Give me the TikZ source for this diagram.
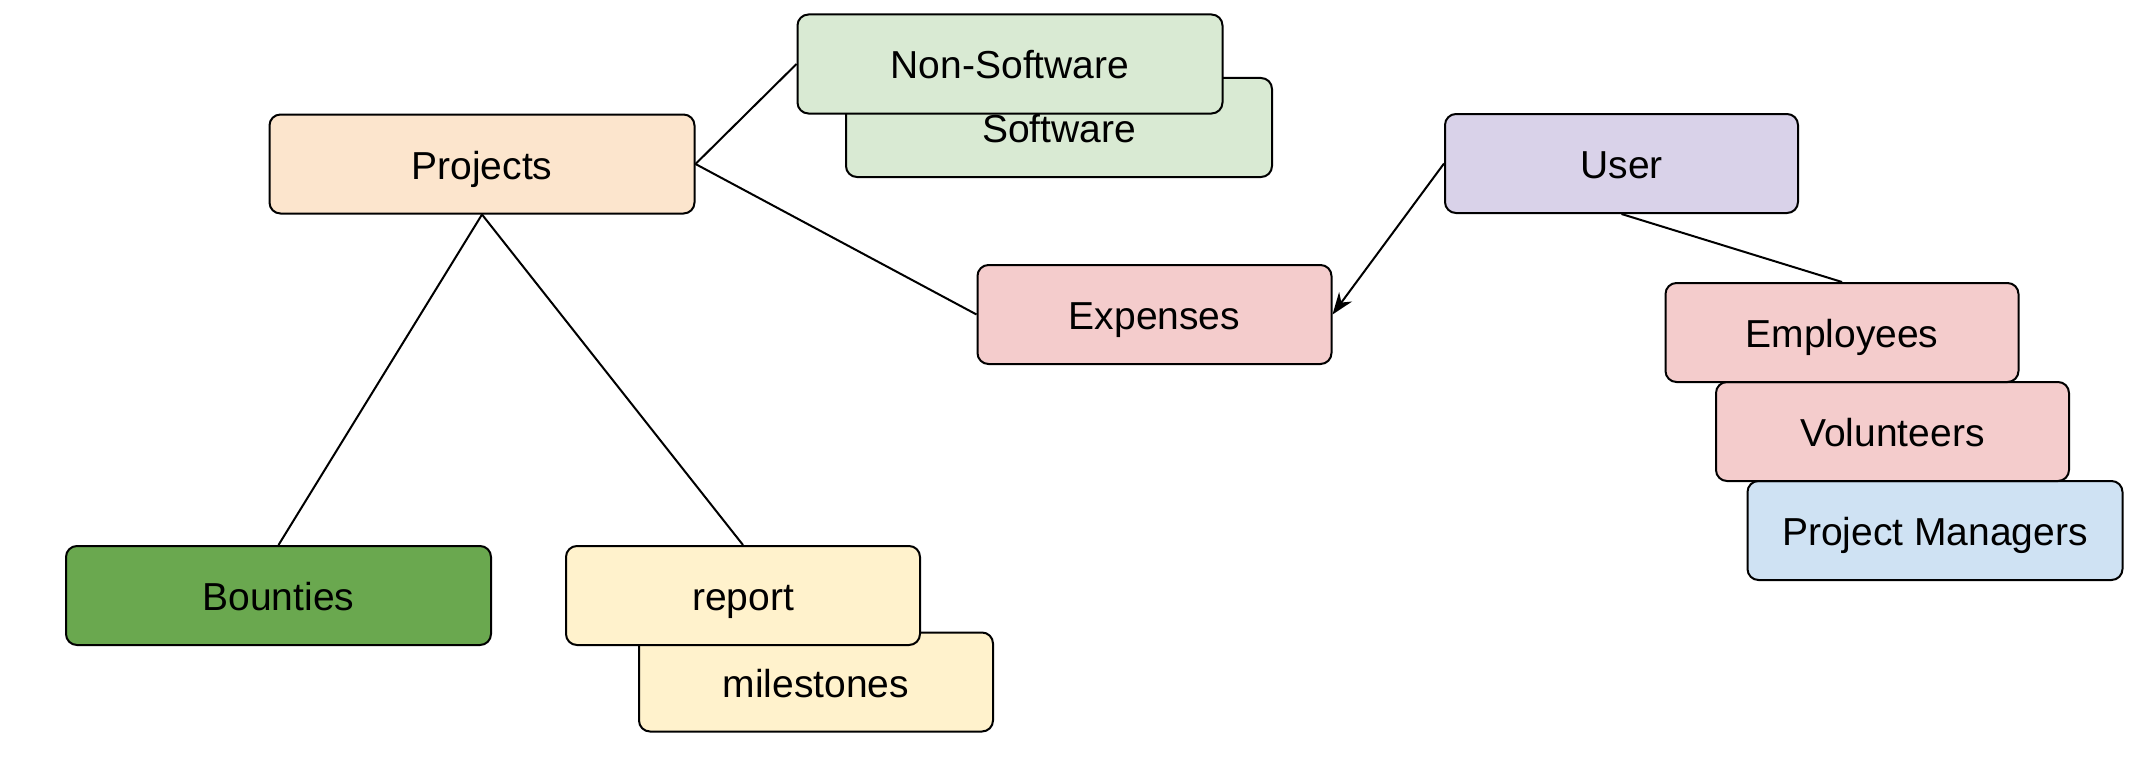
\documentclass[tikz,border=0pt]{standalone}
\usepackage{fontspec}
\setmainfont{Liberation Sans}
\usetikzlibrary{arrows.meta}
\definecolor{cOrange}{HTML}{FCE5CD}
\definecolor{cGreenL}{HTML}{D9EAD3}
\definecolor{cPurple}{HTML}{D9D2E9}
\definecolor{cRed}{HTML}{F4CCCC}
\definecolor{cBlue}{HTML}{CFE2F3}
\definecolor{cGreenD}{HTML}{6AA84F}
\definecolor{cYellow}{HTML}{FFF2CC}
\begin{document}
\begin{tikzpicture}[x=1pt,y=-1pt,
  box/.style={draw=black, line width=2pt, rounded corners=11pt, minimum height=99pt,
    font=\fontsize{39}{47}\selectfont, inner sep=0pt, text=black,
    text height=30pt, text depth=0pt},
  conn/.style={line width=2pt, draw=black}]
\fill[white] (0,0) rectangle (2156,768);
\useasboundingbox (0,0) rectangle (2156,768);
% nodes
\node[box, fill=cOrange, minimum width=425pt] (projects) at (482,164) {Projects};
\node[box, fill=cGreenL, minimum width=426pt] (software) at (1059,127.5) {Software};
\node[box, fill=cGreenL, minimum width=425pt] (nonsoftware) at (1010,64) {Non-Software};
\node[box, fill=cPurple, minimum width=353pt] (user) at (1621.5,163.5) {User};
\node[box, fill=cRed, minimum width=354pt] (expenses) at (1154.5,314.5) {Expenses};
\node[box, fill=cBlue, minimum width=375pt] (pm) at (1935,530.5) {Project Managers};
\node[box, fill=cRed, minimum width=353pt] (volunteers) at (1892.5,431.5) {Volunteers};
\node[box, fill=cRed, minimum width=353pt] (employees) at (1842,332.5) {Employees};
\node[box, fill=cGreenD, minimum width=425pt] (bounties) at (278.5,595.5) {Bounties};
\node[box, fill=cYellow, minimum width=354pt] (milestones) at (816,682) {milestones};
\node[box, fill=cYellow, minimum width=354pt] (report) at (743,595.5) {report};
% connectors
\draw[conn] (projects.east) -- (nonsoftware.west);
\draw[conn] (projects.east) -- (expenses.west);
\draw[conn] (projects.south) -- (bounties.north);
\draw[conn] (projects.south) -- (report.north);
\draw[conn, -{Stealth[length=22pt,width=16pt]}] (user.west) -- (expenses.east);
\draw[conn] (user.south) -- (employees.north);
\end{tikzpicture}
\end{document}
